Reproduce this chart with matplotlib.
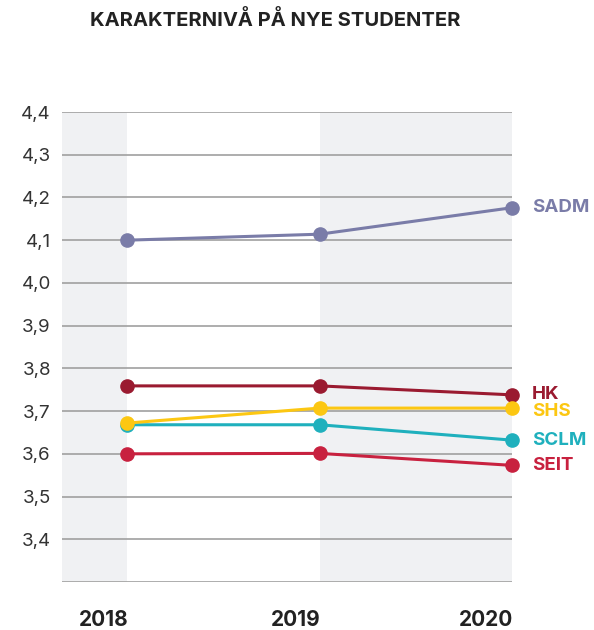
import numpy as np
import matplotlib.pyplot as plt

plt.rcParams['font.family'] = ['Inter', 'DejaVu Sans']

years = [2018, 2019, 2020]
series_names = ['SADM', 'HK', 'SCLM', 'SHS', 'SEIT']
sadm = [4.100, 4.114, 4.176]
hk = [3.759, 3.759, 3.738]
sclm = [3.668, 3.668, 3.632]
shs = [3.672, 3.707, 3.707]
seit = [3.600, 3.601, 3.573]
colors = ['#7a7ca8', '#9a1a30', '#1fb0bd', '#fcc712', '#c8213f']
label_offsets = [0, 0, 0, -3, 0]  # px, nudges for crowded labels
y_ticks = [3.4, 3.5, 3.6, 3.7, 3.8, 3.9, 4.0, 4.1, 4.2, 4.3, 4.4]

fig = plt.figure(figsize=(5.94, 6.3), dpi=100)
ax = fig.add_axes([62/594, 1-582/630, 450/594, 470/630])

x0 = 2018 - 65/192
ax.set_xlim(x0, 2020)
ax.set_ylim(3.3, 4.4)

# shaded bands
ax.axvspan(x0, 2018, color='#f0f1f3', zorder=0, lw=0)
ax.axvspan(2019, 2020, color='#f0f1f3', zorder=0, lw=0)

# gridlines
for v in [3.3] + y_ticks:
    ax.axhline(v, color='#a0a0a0', lw=1.2, zorder=1)

data = [sadm, hk, sclm, shs, seit]
for name, vals, c, off in zip(series_names, data, colors, label_offsets):
    ax.plot(years, vals, color=c, lw=2.2, marker='o', ms=9.5, zorder=3,
            clip_on=False)
    ax.annotate(name, (years[-1], vals[-1]), xytext=(20, off),
                textcoords='offset pixels', color=c, fontsize=13.5,
                fontweight='bold', va='center', ha='left',
                annotation_clip=False)

for s in ax.spines.values():
    s.set_visible(False)
ax.set_xticks([])
ax.set_yticks(y_ticks)
ax.set_yticklabels([f'{v:.1f}'.replace('.', ',') for v in y_ticks],
                   fontsize=13.5, color='#333333')
ax.tick_params(axis='y', length=0, pad=8)

for y in years:
    ax.annotate(str(y), (y, 3.3), xytext=(1, -38), textcoords='offset pixels',
                ha='right', va='center', fontsize=15, fontweight='bold',
                color='#222222', annotation_clip=False)

fig.text(90/594, 1-20/630, 'KARAKTERNIVÅ PÅ NYE STUDENTER', fontsize=14.5,
         fontweight='bold', color='#222222', ha='left', va='center')

fig.savefig('out.png', dpi=100)
